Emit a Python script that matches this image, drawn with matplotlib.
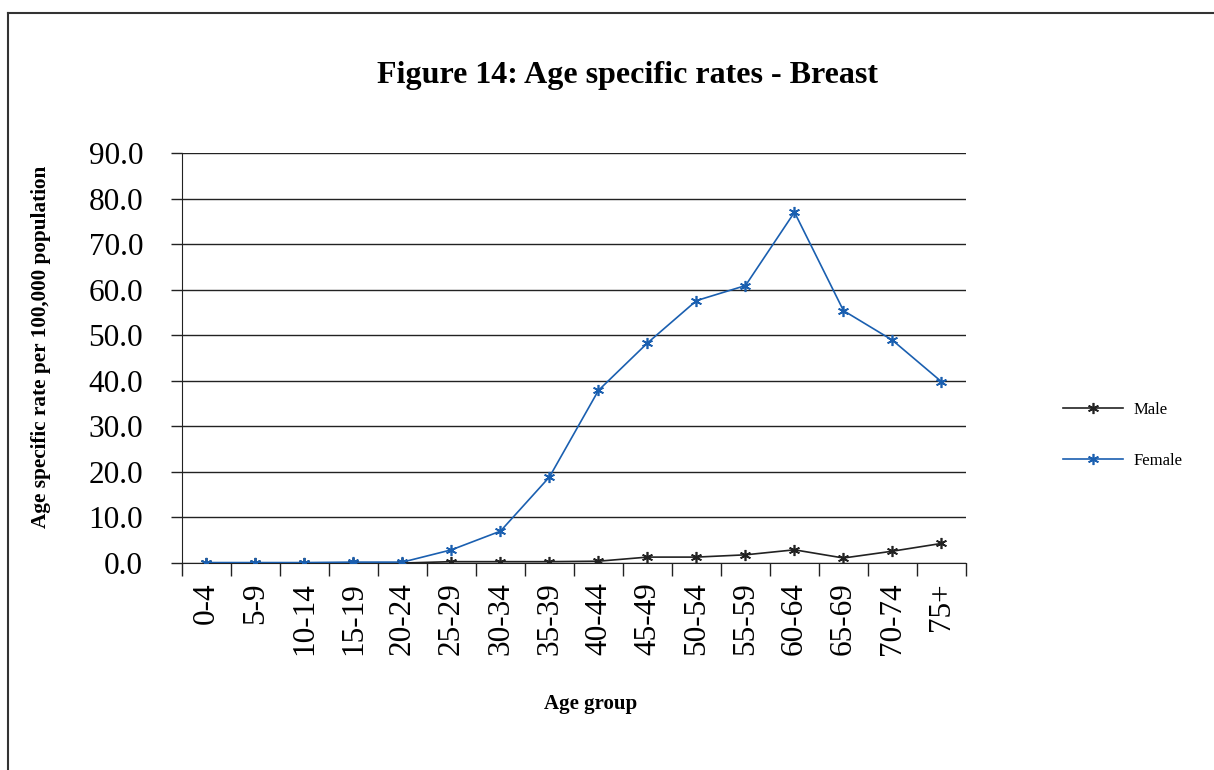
import numpy as np
import matplotlib.pyplot as plt
from matplotlib.lines import Line2D

# age groups and rates per 100,000
age_groups = ["0-4", "5-9", "10-14", "15-19", "20-24", "25-29", "30-34", "35-39",
              "40-44", "45-49", "50-54", "55-59", "60-64", "65-69", "70-74", "75+"]
male = [0.0, 0.0, 0.0, 0.0, 0.0, 0.3, 0.3, 0.3, 0.4, 1.3, 1.3, 1.8, 2.9, 1.1, 2.6, 4.3]
female = [0.1, 0.1, 0.1, 0.2, 0.2, 2.9, 7.0, 18.9, 37.9, 48.3, 57.6, 60.9, 77.0, 55.4, 48.9, 39.8]
yticks = np.arange(0, 91, 10)

plt.rcParams['font.family'] = ['Liberation Serif', 'DejaVu Serif']

fig = plt.figure(figsize=(12.14, 7.70), dpi=100)
ax = fig.add_axes([0.1499, 0.2688, 0.6458, 0.5325])

x = np.arange(len(age_groups))
star = (6, 2, 0)
ax.plot(x, male, color='#222222', lw=1.2, marker=star, ms=8, mew=1.2, label='Male', zorder=3)
ax.plot(x, female, color='#1a5fb0', lw=1.2, marker=star, ms=8, mew=1.2, label='Female', zorder=4)

ax.set_xlim(-0.5, len(age_groups) - 0.5)
ax.set_ylim(0, 90)
ax.set_yticks(yticks)
ax.set_yticklabels([f"{v:.1f}" for v in yticks], fontsize=22.5)
ax.yaxis.grid(True, color='#222222', lw=1.0)
ax.set_axisbelow(True)

ax.set_xticks(x)
ax.set_xticklabels(age_groups, rotation=90, fontsize=22.5)
ax.tick_params(axis='x', which='major', length=0, pad=14)
ax.set_xticks(np.arange(-0.5, len(age_groups), 1), minor=True)
ax.tick_params(axis='x', which='minor', length=9, width=1.0, color='#222222', direction='out')
ax.tick_params(axis='y', length=8, width=1.0, color='#222222', pad=20)

for s in ['top', 'right']:
    ax.spines[s].set_visible(False)
ax.spines['left'].set_color('#222222')
ax.spines['bottom'].set_color('#222222')

fig.text(41 / 1214, 1 - 347 / 770, "Age specific rate per 100,000 population", rotation=90,
         ha='center', va='center', fontsize=15.3, fontweight='bold')
fig.text(591 / 1214, 1 - 704 / 770, "Age group", ha='center', va='center',
         fontsize=15, fontweight='bold')
fig.text(0.517, 1 - 75 / 770, "Figure 14: Age specific rates - Breast", ha='center', va='center',
         fontsize=23, fontweight='bold')

fig.legend(loc='center left', bbox_to_anchor=(0.8635, 0.435), frameon=False, fontsize=12,
           labelspacing=2.1, handlelength=3.6, handletextpad=0.6)

# outer frame of the figure panel
fig.add_artist(Line2D([8 / 1214, 8 / 1214], [0, 1 - 13 / 770], transform=fig.transFigure,
                      color='#333333', lw=1.5))
fig.add_artist(Line2D([8 / 1214, 1], [1 - 13 / 770, 1 - 13 / 770], transform=fig.transFigure,
                      color='#333333', lw=1.5))

fig.savefig("out.png", dpi=100)
